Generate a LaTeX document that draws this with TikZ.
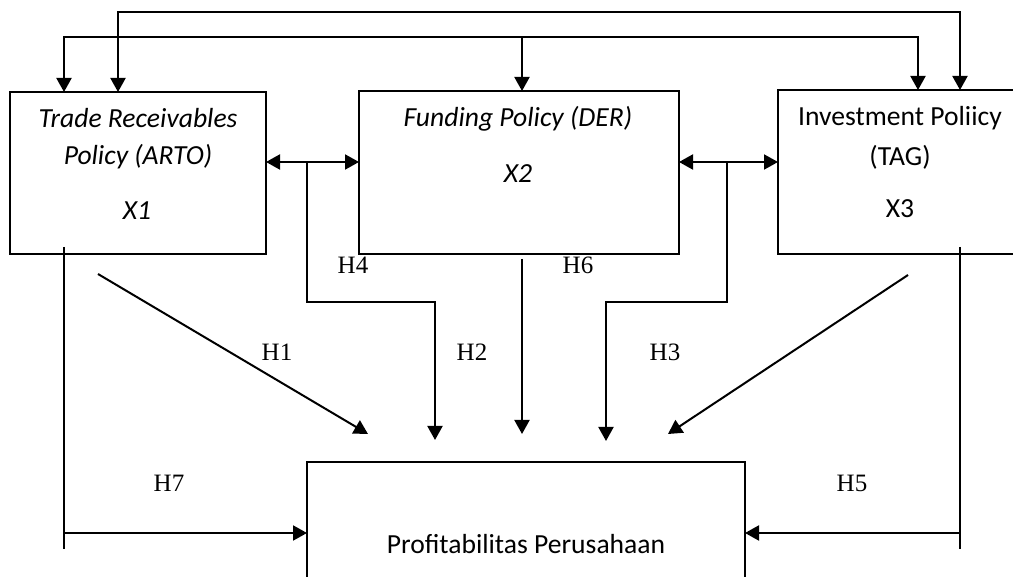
\documentclass[tikz,border=0pt]{standalone}
\usepackage{fontspec}
\setmainfont{Liberation Serif}
\newfontfamily\carlito{Carlito}
\usetikzlibrary{arrows.meta}
\begin{document}
\begin{tikzpicture}[x=0.5pt,y=-0.5pt,
  box/.style={draw,line width=0.9pt,inner sep=0pt,outer sep=0pt},
  arr/.style={line width=1pt,-{Triangle[length=7pt,width=7.5pt]}},
  darr/.style={line width=1pt,{Triangle[length=7pt,width=7.5pt]}-{Triangle[length=7pt,width=7.5pt]}},
  thinln/.style={line width=0.7pt},
  txt/.style={font=\carlito\fontsize{13.8pt}{16pt}\selectfont,anchor=base,inner sep=0pt},
  itxt/.style={font=\carlito\itshape\fontsize{13.8pt}{16pt}\selectfont,anchor=base,inner sep=0pt},
  hlab/.style={font=\fontsize{12.5pt}{14pt}\selectfont,anchor=base,inner sep=0pt}]
\useasboundingbox (0,0) rectangle (1013,577);
\clip (0,0) rectangle (1013,577);
% boxes
\node[box,minimum width=128pt,minimum height=81pt] (x1) at (138,173) {};
\node[box,minimum width=160pt,minimum height=81.5pt] (x2) at (519,172.5) {};
\node[box,minimum width=131pt,minimum height=82pt] (x3) at (909,172) {};
\node[box,minimum width=219pt,minimum height=79pt] (p) at (526,541) {};
% texts
\node[itxt] (t1a) at (138,128) {Trade Receivables};
\node[itxt] (t1b) at (138,165) {Policy (ARTO)};
\node[itxt] (t1c) at (137,220) {X1};
\node[itxt] (t2a) at (518,127) {Funding Policy (DER)};
\node[itxt] (t2c) at (518,183) {X2};
\node[txt] (t3a) at (900,126) {Investment Poliicy};
\node[txt] (t3b) at (900,166) {(TAG)};
\node[txt] (t3c) at (900,218) {X3};
\node[txt] (tp) at (526,553) {Profitabilitas Perusahaan};
% H labels
\node[hlab] (h4) at (353,274) {H4};
\node[hlab] (h6) at (578,274) {H6};
\node[hlab] (h1) at (277,361) {H1};
\node[hlab] (h2) at (472,361) {H2};
\node[hlab] (h3) at (665,361) {H3};
\node[hlab] (h7) at (169,491) {H7};
\node[hlab] (h5) at (852,491) {H5};
% routing coordinates
\coordinate (o1) at (118,12);
\coordinate (o2) at (960,12);
\coordinate (i1) at (64,37);
\coordinate (i2) at (918,37);
\coordinate (i3) at (522,37);
\coordinate (j1) at (307,162);
\coordinate (j2) at (727,162);
\coordinate (k1) at (307,302);
\coordinate (k2) at (435,302);
\coordinate (e2) at (435,440);
\coordinate (k3) at (727,302);
\coordinate (k4) at (606,302);
\coordinate (e3) at (606,441);
\coordinate (m1) at (522,259);
\coordinate (m2) at (522,434);
\coordinate (d1) at (98,274);
\coordinate (d1e) at (368,434);
\coordinate (d3) at (908,275);
\coordinate (d3e) at (668,434);
\coordinate (l1) at (64,247);
\coordinate (l2) at (64,549);
\coordinate (l3) at (64,533);
\coordinate (r1) at (960,247);
\coordinate (r2) at (960,549);
\coordinate (r3) at (960,533);
% top connectors
\draw[darr,line join=miter] (o1 |- x1.north) -- (o1) -- (o2) -- (o2 |- x3.north);
\draw[darr,line join=miter] (i1 |- x1.north) -- (i1) -- (i2) -- (i2 |- x3.north);
\draw[arr] (i3) -- (i3 |- x2.north);
% double arrows between boxes
\draw[darr] (x1.east |- j1) -- (x2.west |- j1);
\draw[darr] (x2.east |- j2) -- (x3.west |- j2);
% branches
\draw[arr,line join=miter] (j1) -- (k1) -- (k2) -- (e2);
\draw[arr,line join=miter] (j2) -- (k3) -- (k4) -- (e3);
\draw[arr] (m1) -- (m2);
\draw[arr] (d1) -- (d1e);
\draw[arr] (d3) -- (d3e);
% side connectors
\draw[thinln] (l1) -- (l2);
\draw[arr] (l3) -- (p.west |- l3);
\draw[thinln] (r1) -- (r2);
\draw[arr] (r3) -- (p.east |- r3);
\end{tikzpicture}
\end{document}
